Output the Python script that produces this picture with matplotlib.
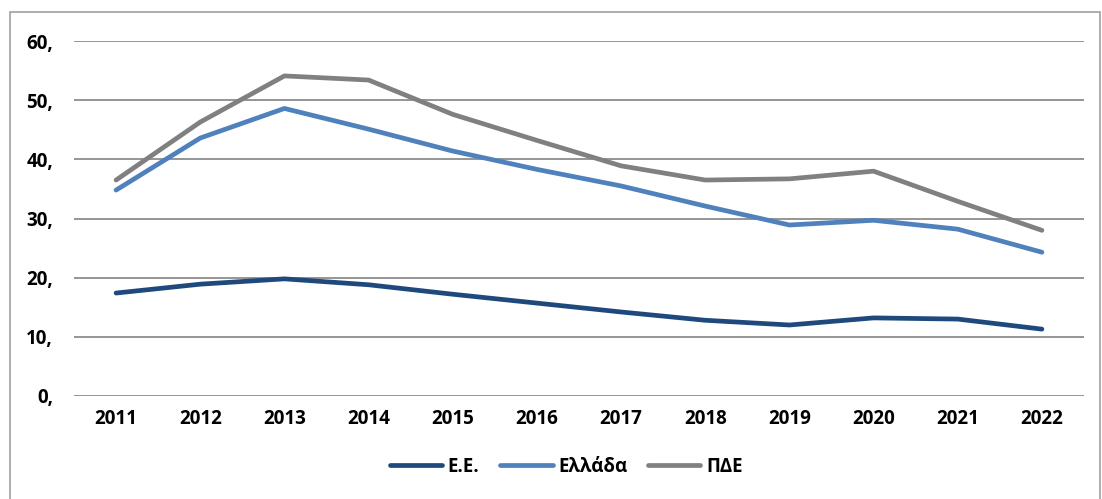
import matplotlib.pyplot as plt
from matplotlib.patches import Rectangle

plt.rcParams['font.family'] = ['Open Sans', 'DejaVu Sans']

years = [2011, 2012, 2013, 2014, 2015, 2016, 2017, 2018, 2019, 2020, 2021, 2022]
ee = [17.4, 18.9, 19.8, 18.8, 17.2, 15.7, 14.2, 12.8, 12.0, 13.2, 13.0, 11.3]
ellada = [34.8, 43.6, 48.6, 45.1, 41.4, 38.3, 35.5, 32.1, 28.9, 29.7, 28.2, 24.3]
pde = [36.5, 46.3, 54.1, 53.4, 47.6, 43.2, 38.9, 36.5, 36.7, 38.0, 32.9, 28.0]
labels = ['Ε.Ε.', 'Ελλάδα', 'ΠΔΕ']
colors = ['#1f497d', '#4f81bd', '#808080']
yticks = [0, 10, 20, 30, 40, 50, 60]

fs = 13.5

fig = plt.figure(figsize=(11.02, 4.99), dpi=100)
ax = fig.add_axes([74 / 1102, 1 - 396 / 499, (1084 - 74) / 1102, (396 - 41) / 499])

x = list(range(len(years)))
for data, lab, col in zip([ee, ellada, pde], labels, colors):
    ax.plot(x, data, color=col, lw=3.4, label=lab, solid_capstyle='round', solid_joinstyle='round')

ax.set_xlim(-0.5, len(years) - 0.5)
ax.set_ylim(0, 60)
ax.set_yticks(yticks)
ax.set_yticklabels([f'{v},' for v in yticks], fontsize=fs, fontweight='bold')
ax.set_xticks(x)
ax.set_xticklabels([str(y) for y in years], fontsize=fs, fontweight='bold')
ax.tick_params(length=0)
ax.tick_params(axis='y', pad=15)
ax.tick_params(axis='x', pad=9)
ax.grid(axis='y', color='#8c8c8c', lw=1.3)
ax.set_axisbelow(True)
for s in ax.spines.values():
    s.set_visible(False)

leg = fig.legend(loc='center', bbox_to_anchor=(566 / 1102, 1 - 467 / 499), ncol=3,
                 frameon=False, prop={'size': fs, 'weight': 'bold'},
                 handlelength=2.8, handletextpad=0.3, columnspacing=1.1)

fig.patches.append(Rectangle((10 / 1102, -0.05), 1090 / 1102, 1.05 - 12 / 499,
                             transform=fig.transFigure, fill=False,
                             edgecolor='#a0a0a0', lw=1.2))

fig.savefig('out.png', dpi=100)
